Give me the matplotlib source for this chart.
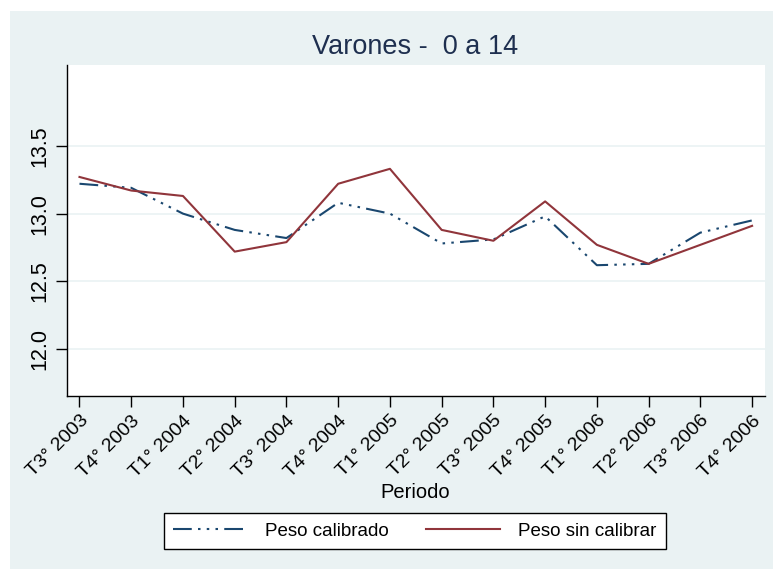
import numpy as np
import matplotlib
matplotlib.use("Agg")
import matplotlib.pyplot as plt
from matplotlib.patches import Rectangle

plt.rcParams['font.family'] = ['Liberation Sans', 'DejaVu Sans']

periodos = ['T3° 2003', 'T4° 2003', 'T1° 2004', 'T2° 2004', 'T3° 2004', 'T4° 2004',
            'T1° 2005', 'T2° 2005', 'T3° 2005', 'T4° 2005', 'T1° 2006', 'T2° 2006',
            'T3° 2006', 'T4° 2006']
peso_calibrado = [13.22, 13.19, 13.00, 12.88, 12.82, 13.08, 13.00, 12.78, 12.81, 12.98,
                  12.62, 12.63, 12.86, 12.95]
peso_sin_calibrar = [13.27, 13.17, 13.13, 12.72, 12.79, 13.22, 13.33, 12.88, 12.80, 13.09,
                     12.77, 12.63, 12.77, 12.91]
yticks = [12.0, 12.5, 13.0, 13.5]

bg = '#EAF2F3'
azul = '#1A476F'
rojo = '#90353B'

fig = plt.figure(figsize=(7.73, 5.69), dpi=100)
fig.patch.set_facecolor('white')
fig.patches.append(Rectangle((10 / 773, 0), 1 - 10 / 773, 1 - 11 / 569,
                             transform=fig.transFigure, facecolor=bg,
                             edgecolor='none', zorder=-10))

ax = fig.add_axes([0.0873, 0.3049, 0.9897 - 0.0873, 0.8858 - 0.3049])
ax.set_facecolor('white')

x = np.arange(len(periodos))
ax.plot(x, peso_calibrado, color=azul, lw=1.5, dashes=(9, 3, 1.2, 3, 1.2, 3, 1.2, 3),
        label='Peso calibrado')
ax.plot(x, peso_sin_calibrar, color=rojo, lw=1.5, label='Peso sin calibrar')

ax.set_xlim(-0.232, 13.25)
ax.set_ylim(11.66, 14.095)
ax.set_yticks(yticks)
ax.set_yticklabels(['%.1f' % v for v in yticks], rotation=90, va='center', fontsize=15.5)
ax.set_xticks(x)
ax.set_xticklabels(periodos, rotation=45, ha='right', rotation_mode='anchor', fontsize=14)
ax.tick_params(axis='both', direction='out', length=8, width=1, color='black', pad=4)
ax.grid(axis='y', color=bg, lw=1.2)
ax.set_axisbelow(True)

for s in ['top', 'right']:
    ax.spines[s].set_visible(False)
for s in ['left', 'bottom']:
    ax.spines[s].set_linewidth(1)
    ax.spines[s].set_color('black')

fig.text(415 / 773, 1 - 492 / 569, 'Periodo', ha='center', va='center', fontsize=14.5)
fig.text(415 / 773, 1 - 47 / 569, 'Varones -  0 a 14', ha='center', va='center',
         fontsize=19.5, color='#1E2F4F')

leg = fig.legend(loc='center', bbox_to_anchor=(415 / 773, 1 - 531 / 569), ncol=2,
                 fontsize=13.5, frameon=True, fancybox=False, edgecolor='black',
                 framealpha=1, handlelength=3.9, columnspacing=2.0, borderpad=0.5,
                 handletextpad=1.0, borderaxespad=0)
leg.get_frame().set_linewidth(1)

fig.savefig('out.png', dpi=100, facecolor=fig.get_facecolor())
